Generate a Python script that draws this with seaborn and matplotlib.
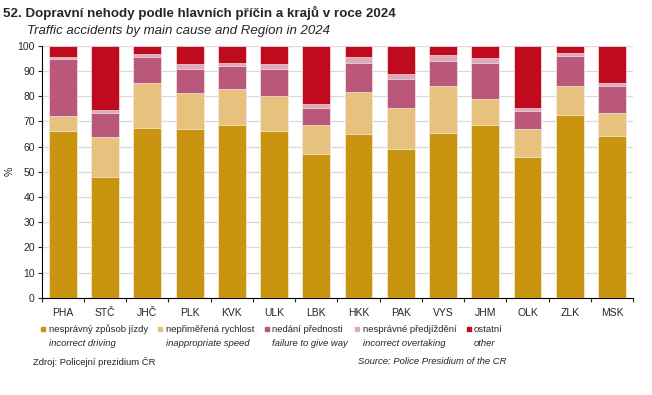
import numpy as np
import pandas as pd
import matplotlib
matplotlib.use("Agg")
import matplotlib.pyplot as plt
import seaborn as sns
from matplotlib.patches import Rectangle

regions = ["PHA", "STČ", "JHČ", "PLK", "KVK", "ULK", "LBK",
           "HKK", "PAK", "VYS", "JHM", "OLK", "ZLK", "MSK"]

# shares in % by main cause
driving = [66.3, 48.0, 67.5, 66.8, 68.5, 66.3, 57.1, 64.9, 59.1, 65.5, 68.5, 55.8, 72.5, 64.2]
speed = [5.7, 15.9, 17.9, 14.3, 14.4, 13.9, 11.6, 16.6, 16.2, 18.6, 10.3, 11.0, 11.4, 9.3]
failure = [22.8, 9.5, 10.0, 9.9, 8.9, 10.8, 6.8, 11.8, 11.5, 9.9, 14.5, 7.4, 11.9, 10.5]
overtaking = [0.7, 1.3, 1.4, 1.6, 1.3, 1.7, 1.5, 2.2, 2.2, 2.3, 1.7, 1.3, 1.2, 1.1]
other = [4.5, 25.3, 3.2, 7.4, 6.9, 7.3, 23.0, 4.5, 11.0, 3.7, 5.0, 24.5, 3.0, 14.9]

labels_cz = ["nesprávný způsob jízdy", "nepřiměřená rychlost", "nedání přednosti",
             "nesprávné předjíždění", "ostatní"]
labels_en = ["incorrect driving", "inappropriate speed", "failure to give way",
             "incorrect overtaking", "other"]
colors = ["#C9940F", "#E6C27E", "#B9587B", "#DDA9BB", "#C00A1E"]

sns.set_style("white")
plt.rcParams["font.family"] = ["Liberation Sans", "DejaVu Sans"]

df = pd.DataFrame({"region": regions, "driving": driving, "speed": speed,
                   "failure": failure, "overtaking": overtaking, "other": other})
causes = ["driving", "speed", "failure", "overtaking", "other"]
cum = df[causes].cumsum(axis=1)

fig = plt.figure(figsize=(6.52, 3.95), dpi=100)
ax = fig.add_axes([0.064, 0.246, 0.907, 0.638])

# draw cumulative bars from top layer to bottom so they stack
for c, col in reversed(list(zip(causes, colors))):
    sns.barplot(x=df["region"], y=cum[c], color=col, width=0.66, ax=ax,
                saturation=1, edgecolor="white", linewidth=0.4, zorder=3)

ax.set_ylim(0, 100)
ax.set_xlim(-0.5, len(regions) - 0.5)
ax.set_yticks(np.arange(0, 101, 10))
ax.yaxis.grid(True, color="#D9D9D9", linewidth=0.9, zorder=0)
ax.set_axisbelow(True)
ax.set_xlabel("")
ax.set_ylabel("%", fontsize=7.5)
ax.yaxis.set_label_coords(-0.045, 0.5)
for s in ["top", "right"]:
    ax.spines[s].set_visible(False)
ax.spines["left"].set_color("black")
ax.spines["bottom"].set_color("black")
ax.spines["left"].set_linewidth(0.8)
ax.spines["bottom"].set_linewidth(0.8)
ax.tick_params(axis="y", labelsize=7.5, length=3, width=0.8, pad=2, left=True)
ax.tick_params(axis="x", which="major", labelsize=7.5, length=0, pad=7)
ax.set_xticks(np.arange(-0.5, len(regions)), minor=True)
ax.tick_params(axis="x", which="minor", length=3, width=0.8, bottom=True)

fig.text(0.005, 0.968, "52. Dopravní nehody podle hlavních příčin a krajů v roce 2024",
         fontsize=9.6, fontweight="bold", va="center")
fig.text(0.041, 0.922, "Traffic accidents by main cause and Region in 2024",
         fontsize=9.5, style="italic", va="center")

# legend, two lines per entry
sq_x = [41, 158, 265, 355, 467]
tx_x = [49, 166, 272, 363, 474]
for i in range(5):
    fig.add_artist(Rectangle((sq_x[i] / 652, 1 - 331 / 395), 4 / 652, 4 / 395,
                             transform=fig.transFigure, color=colors[i]))
    fig.text(tx_x[i] / 652, 1 - 329 / 395, labels_cz[i], fontsize=6.8, va="center")
    fig.text(tx_x[i] / 652, 1 - 343 / 395, labels_en[i], fontsize=6.8,
             style="italic", va="center")

fig.text(33 / 652, 1 - 362 / 395, "Zdroj: Policejní prezidium ČR", fontsize=6.8, va="center")
fig.text(506 / 652, 1 - 362 / 395, "Source: Police Presidium of the CR", fontsize=6.8,
         style="italic", va="center", ha="right")

fig.savefig("out.png", dpi=100)
